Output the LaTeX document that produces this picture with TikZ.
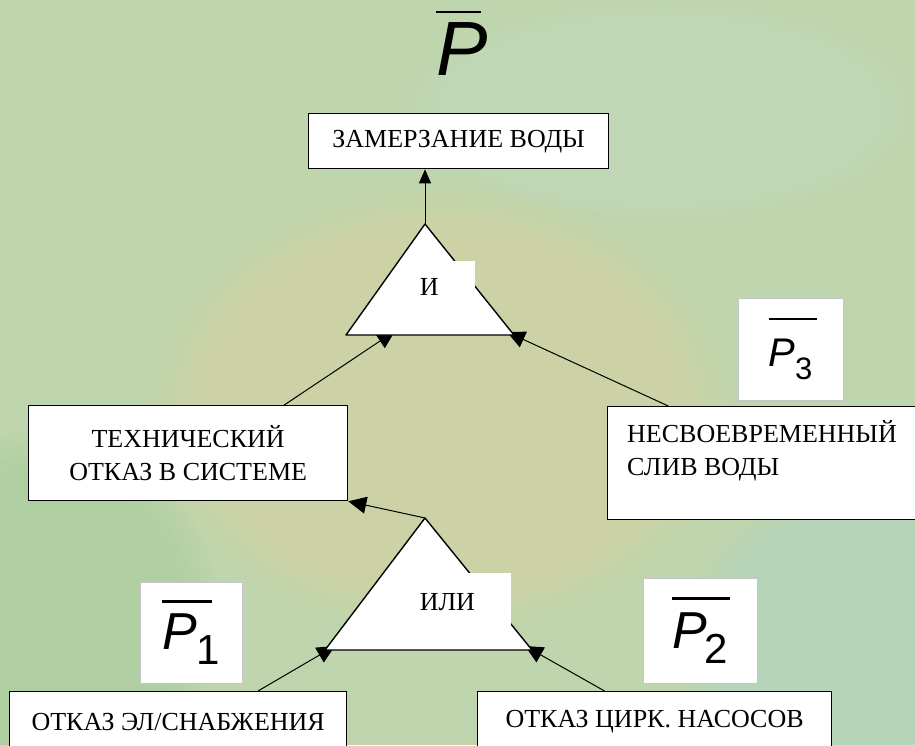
\documentclass[tikz,border=0pt]{standalone}
\usepackage{fontspec}
\setmainfont{Liberation Serif}
\newfontfamily\psans{Liberation Sans}
\usetikzlibrary{arrows.meta, calc, positioning, backgrounds, fadings}
\definecolor{bggreen}{RGB}{190,213,173}
\definecolor{bgsand}{RGB}{208,210,164}
\definecolor{bgmint}{RGB}{198,222,200}
\definecolor{bgdeep}{RGB}{170,205,158}
\definecolor{bgteal}{RGB}{178,212,190}
\newcommand{\overbar}[2]{\rlap{\rule[#1]{#2}{2.2pt}}}

\begin{document}
\begin{tikzpicture}[x=1pt, y=-1pt, >={Triangle[length=18pt,width=17pt]},
    event/.style={draw, fill=white, line width=1.3pt, inner sep=0pt, anchor=north west,
      align=center, font=\fontsize{26}{33}\selectfont},
    pbox/.style={draw=gray!45, fill=white, line width=0.6pt, inner sep=0pt, font=\psans},
    gate/.style={draw, fill=white, line width=1.4pt, line join=round},
    gatetext/.style={fill=white, anchor=north east, inner ysep=0pt, align=left,
      font=\fontsize{26}{26}\selectfont},
    link/.style={->, line width=1pt}]
    \useasboundingbox (0,0) rectangle (915,745);
    \clip (0,0) rectangle (915,745);

    % Background
    \begin{scope}[on background layer]
        \fill[bggreen] (0,0) rectangle (915,745);
        \fill[bgsand, opacity=0.8, path fading=circle with fuzzy edge 20 percent] (440,410) ellipse (300pt and 230pt);
        \fill[bgmint, opacity=0.4, path fading=circle with fuzzy edge 20 percent] (660,110) ellipse (260pt and 110pt);
        \fill[bgdeep, opacity=0.7, path fading=circle with fuzzy edge 20 percent] (40,620) ellipse (180pt and 190pt);
        \fill[bgteal, opacity=0.7, path fading=circle with fuzzy edge 20 percent] (870,650) ellipse (190pt and 170pt);
    \end{scope}

    % Top event
    \node (ptop) [anchor=base west, inner sep=0pt, font=\psans\fontsize{77}{77}\selectfont]
        at (436,75) {\overbar{62pt}{45pt}\itshape P};
    \node (top) [event, minimum width=300pt, minimum height=55pt] at (308,113) {ЗАМЕРЗАНИЕ ВОДЫ};

    % AND gate
    \coordinate (andtop) at (425,224);
    \coordinate (andleft) at (346,335);
    \coordinate (andright) at (514,335);
    \draw[gate] (andtop) -- (andleft) -- (andright) -- cycle;
    \node (andlbl) [gatetext, text width=48pt, inner xsep=7pt, minimum height=52pt] at (475,261) {И};
    \coordinate (andin1) at (395,331);
    \coordinate (andin2) at (507,332);

    % Middle events
    \node (tech) [event, minimum width=319pt, minimum height=95pt] at (28,405)
        {ТЕХНИЧЕСКИЙ\\ОТКАЗ В СИСТЕМЕ};
    \node (late) [event, minimum width=330pt, minimum height=113pt,
        label={[name=latetxt, anchor=north west, align=left, inner sep=0pt,
          xshift=20pt, yshift=-14pt, font=\fontsize{26}{33}\selectfont]north west:НЕСВОЕВРЕМЕННЫЙ\\СЛИВ ВОДЫ}]
        at (607,406) {};
    \node (p3) [pbox, minimum width=105pt, minimum height=102pt] at (790.5,349)
        {\fontsize{40}{40}\selectfont\overbar{46pt}{48pt}\itshape P\upshape\raisebox{-13pt}{\fontsize{31}{31}\selectfont 3}};

    % OR gate
    \coordinate (ortop) at (425,518);
    \coordinate (orleft) at (325,650);
    \coordinate (orright) at (532,650);
    \draw[gate] (ortop) -- (orleft) -- (orright) -- cycle;
    \node (orlbl) [gatetext, text width=83pt, inner xsep=8pt, minimum height=57pt] at (511,573) {ИЛИ};
    \coordinate (orin1) at (335,646);
    \coordinate (orin2) at (525,646);

    % Basic events
    \node (p1) [pbox, minimum width=102pt, minimum height=101pt] at (191,632.5)
        {\fontsize{52}{52}\selectfont\overbar{47pt}{50pt}\itshape P\upshape\kern-1pt\raisebox{-15pt}{\fontsize{42}{42}\selectfont 1}};
    \node (p2) [pbox, minimum width=114pt, minimum height=105pt] at (700,630.5)
        {\fontsize{52}{52}\selectfont\overbar{49pt}{58pt}\itshape P\upshape\kern-3pt\raisebox{-15pt}{\fontsize{42}{42}\selectfont 2}};
    \node (elec) [event, minimum width=337pt, minimum height=60pt] at (9,691) {ОТКАЗ ЭЛ/СНАБЖЕНИЯ};
    \node (pump) [event, minimum width=354pt, minimum height=60pt] at (477,691) {ОТКАЗ ЦИРК. НАСОСОВ};

    % Connectors
    \begin{scope}[on background layer]
        \draw[link, -{Triangle[length=14pt,width=12pt]}] (andtop) -- (andtop |- top.south);
        \draw[link] ($(tech.north west)!0.8!(tech.north east)$) -- (andin1);
        \draw[link] ($(late.north west)!0.185!(late.north east)$) -- (andin2);
        \draw[link] (ortop) -- (tech.south east);
        \draw[link] ($(elec.north west)!0.736!(elec.north east)$) -- (orin1);
        \draw[link] ($(pump.north west)!0.359!(pump.north east)$) -- (orin2);
    \end{scope}
\end{tikzpicture}
\end{document}
